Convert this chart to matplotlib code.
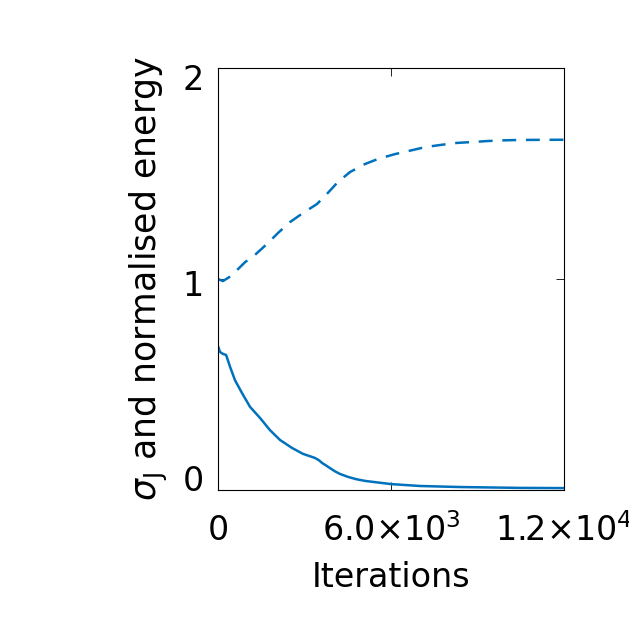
import matplotlib
matplotlib.use('Agg')
import matplotlib.pyplot as plt
from matplotlib.transforms import ScaledTranslation

# values
iters_energy = [0, 170, 450, 940, 1280, 1730, 2080, 2500, 2950, 3430, 3810, 4160, 4580,
                5100, 5550, 6140, 6620, 7180, 7700, 8290, 8800, 9370, 9880, 10470, 12000]
energy = [1.0, 0.99, 1.014, 1.08, 1.114, 1.17, 1.218, 1.27, 1.313, 1.355, 1.408, 1.46, 1.507,
          1.545, 1.569, 1.592, 1.607, 1.625, 1.635, 1.645, 1.649, 1.654, 1.657, 1.659, 1.66]

iters_sigma = [0, 70, 170, 280, 420, 590, 830, 1110, 1460, 1800, 2150, 2570, 2950, 3360,
               3500, 3610, 3750, 3880, 4050, 4230, 4510, 4800, 5100, 6000, 7000, 8400,
               10470, 12000]
sigma = [0.682, 0.654, 0.645, 0.64, 0.583, 0.52, 0.46, 0.394, 0.341, 0.284, 0.237, 0.199,
         0.171, 0.152, 0.141, 0.128, 0.116, 0.104, 0.089, 0.076, 0.062, 0.051, 0.043, 0.028,
         0.019, 0.014, 0.01, 0.009]

xticks = [0, 6000, 12000]
xticklabels = ['0', r'$6.0{\times}10^{3}$', r'$1.2{\times}10^{4}$']
yticks = [0, 1, 2]
yticklabels = ['0', '1', '2']

blue = '#0072BD'
plt.rcParams['lines.scale_dashes'] = False

fig = plt.figure(figsize=(6.29, 6.29), dpi=100)
ax = fig.add_axes([0.3466, 0.221, 0.5501, 0.6709])

ax.plot(iters_energy, energy, color=blue, lw=1.8, dashes=(10, 7))
ax.plot(iters_sigma, sigma, color=blue, lw=1.8)

ax.set_xlim(0, 12000)
ax.set_ylim(0, 2)
ax.set_xticks(xticks)
ax.set_xticklabels(xticklabels)
ax.set_yticks(yticks)
ax.set_yticklabels(yticklabels)
ax.tick_params(direction='in', length=6, width=0.6, top=True, right=True,
               labelsize=24, pad=10)
ax.tick_params(axis='x', pad=17)
for s in ax.spines.values():
    s.set_linewidth(0.8)

# y tick labels sit a bit inward in the reference
for tick, dy in zip(ax.yaxis.get_major_ticks(), [12, -4, -9]):
    lab = tick.label1
    lab.set_transform(lab.get_transform() + ScaledTranslation(0, dy / 100, fig.dpi_scale_trans))

ax.set_xlabel('Iterations', fontsize=24)
ax.set_ylabel(r'$\sigma_\mathrm{J}$ and normalised energy', fontsize=25)
ax.xaxis.set_label_coords(0.5, -0.168)
ax.yaxis.set_label_coords(-0.14, 0.5)
ax.xaxis.label.set_va('top')

fig.savefig('out.png', dpi=100)
